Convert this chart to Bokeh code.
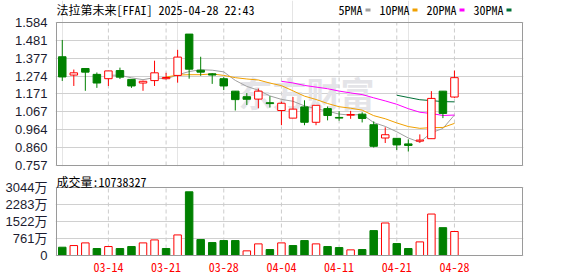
import numpy as np
import pandas as pd
from bokeh.plotting import figure
from bokeh.models import (FixedTicker, Label, ColumnDataSource, Range1d,
                          PrintfTickFormatter, CustomJSTickFormatter, BoxAnnotation)
from bokeh.layouts import column
from bokeh.embed import file_html
from bokeh.resources import INLINE

# ---------------- data ----------------
dates = ["03-10", "03-11", "03-12", "03-13", "03-14", "03-17", "03-18", "03-19", "03-20", "03-21",
         "03-24", "03-25", "03-26", "03-27", "03-28", "03-31", "04-01", "04-02", "04-03", "04-04",
         "04-07", "04-08", "04-09", "04-10", "04-11", "04-14", "04-15", "04-16", "04-17", "04-21",
         "04-22", "04-23", "04-24", "04-25", "04-28"]
opens = [1.386, 1.280, 1.318, 1.284, 1.259, 1.306, 1.255, 1.234, 1.248, 1.259,
         1.278, 1.517, 1.308, 1.287, 1.259, 1.187, 1.155, 1.141, 1.120, 1.075,
         1.031, 1.096, 1.007, 1.086, 1.035, 1.048, 1.054, 0.993, 0.916, 0.914,
         0.882, 0.898, 0.912, 1.187, 1.153]
highs = [1.483, 1.312, 1.318, 1.295, 1.304, 1.323, 1.255, 1.248, 1.363, 1.293,
         1.426, 1.517, 1.386, 1.291, 1.268, 1.187, 1.176, 1.202, 1.158, 1.126,
         1.153, 1.134, 1.105, 1.098, 1.071, 1.073, 1.065, 1.012, 0.978, 0.914,
         0.908, 0.937, 1.187, 1.187, 1.306]
lows = [1.246, 1.217, 1.189, 1.206, 1.217, 1.257, 1.206, 1.189, 1.217, 1.255,
        1.236, 1.259, 1.276, 1.229, 1.193, 1.075, 1.107, 1.088, 1.092, 0.990,
        1.031, 0.990, 0.990, 1.018, 1.016, 1.027, 1.006, 0.861, 0.887, 0.847,
        0.838, 0.889, 0.912, 1.031, 1.148]
closes = [1.269, 1.293, 1.297, 1.234, 1.304, 1.268, 1.217, 1.244, 1.293, 1.266,
          1.384, 1.314, 1.297, 1.280, 1.217, 1.138, 1.140, 1.187, 1.115, 1.117,
          1.083, 1.007, 1.105, 1.046, 1.031, 1.052, 1.029, 0.868, 0.935, 0.876,
          0.873, 0.904, 1.145, 1.058, 1.265]
volumes_wan = [371, 445, 564, 312, 401, 312, 401, 564, 698, 312,
               921, 2851, 713, 579, 668, 668, 208, 520, 267, 564,
               445, 668, 520, 401, 356, 252, 267, 1114, 1455, 535,
               312, 609, 1856, 1247, 1074]
price_labels = ["0.757", "0.860", "0.964", "1.067", "1.171", "1.274", "1.377", "1.481", "1.584"]
volume_ticks = [0, 761, 1522, 2283, 3044]
ma_periods = [5, 10, 20, 30]
ma_names = ["5PMA", "10PMA", "20PMA", "30PMA"]
ma_colors = ["#a0a0a0", "#f0a000", "#ff00ff", "#006f36"]
title_text = "法拉第未来[FFAI] 2025-04-28 22:43"
volume_text = "成交量:10738327"
watermark = "东方财富"

# ---------------- styling / layout constants ----------------
RED = "#ff0000"
GREEN = "#008000"
GRID = "#d0d0d0"
VGRID = "#cccccc"
BORDER = "#9a9a9a"
MONO = "'Noto Sans Mono CJK SC', 'Noto Sans CJK SC', monospace"
AXF = "'Liberation Sans', 'Noto Sans CJK SC', sans-serif"
W = 578
FR_L, FR_R = 56, 522            # pixel columns of the plot borders
P_TOP, P_BOT = 22, 165          # price plot border rows
V_TOP, V_BOT = 187, 255         # volume plot border rows
P_FIG_H = 172                   # price figure spans rows 0..172
V_FIG_H = 104                   # volume figure spans rows 172..276
XR = (-0.5, 39.9)

n = len(dates)
xs = list(range(n))
up = [c >= o for o, c in zip(opens, closes)]
line_col = [RED if u else GREEN for u in up]
fill_col = ["#ffffff" if u else GREEN for u in up]
vol_up = [closes[0] >= opens[0]] + [closes[i] >= closes[i - 1] for i in range(1, n)]
vline = [RED if u else GREEN for u in vol_up]
vfill = ["#ffffff" if u else GREEN for u in vol_up]

src = ColumnDataSource(dict(
    x=xs, high=highs, low=lows,
    top=[max(o, c) for o, c in zip(opens, closes)],
    bottom=[min(o, c) for o, c in zip(opens, closes)],
    lc=line_col, fc=fill_col,
    vol=volumes_wan, vlc=vline, vfc=vfill,
))

date_ticks = list(range(n - 1, -1, -5))[::-1]
price_ticks = [float(s) for s in price_labels]

# x range padded by one pixel on each side so the border lines are not clipped
px_x = (XR[1] - XR[0]) / (FR_R - FR_L)
x_range = Range1d(XR[0] - px_x, XR[1] + px_x)

# ---------------- price figure (frame also holds the header row) ----------------
P_FRAME_BOT = P_BOT + 1
px_p = (price_ticks[-1] - price_ticks[0]) / (P_BOT - P_TOP)
p = figure(width=W, height=P_FIG_H, x_range=x_range,
           y_range=Range1d(price_ticks[0] - (P_FRAME_BOT - P_BOT) * px_p,
                           price_ticks[-1] + P_TOP * px_p),
           output_backend="svg", toolbar_location=None, x_axis_location=None,
           min_border_left=FR_L - 1, min_border_right=W - FR_R - 1,
           min_border_top=0, min_border_bottom=P_FIG_H - P_FRAME_BOT)
p.outline_line_color = None
p.yaxis.ticker = FixedTicker(ticks=price_ticks)
p.yaxis.formatter = PrintfTickFormatter(format="%.3f")
p.yaxis.axis_line_color = None
p.yaxis.major_tick_line_color = None
p.yaxis.minor_tick_line_color = None
p.yaxis.major_label_standoff = 2
p.yaxis.major_label_text_font = AXF
p.yaxis.major_label_text_font_size = "13px"
p.yaxis.major_label_text_color = "#1c1c30"
p.ygrid.ticker = FixedTicker(ticks=price_ticks)
p.ygrid.grid_line_color = GRID

PFH = P_FRAME_BOT  # frame height in px
p.add_layout(Label(x=306 - FR_L + 1, y=PFH - 92, x_units="screen", y_units="screen",
                   text=watermark, text_font="'Noto Sans CJK SC'", text_font_size="34px",
                   text_font_style="bold", text_color="#e4e4e8", text_align="center",
                   text_baseline="middle", level="underlay"))

p.segment(x0=date_ticks, y0=[price_ticks[0]] * len(date_ticks),
          x1=date_ticks, y1=[price_ticks[-1]] * len(date_ticks),
          line_color=VGRID, line_width=1, line_dash="4 3")

for k, name, colr in zip(ma_periods, ma_names, ma_colors):
    ma = pd.Series(closes).rolling(k).mean().to_numpy()
    p.line(xs, ma, line_color=colr, line_width=1)

p.segment(x0="x", y0="low", x1="x", y1="high", line_color="lc", line_width=1, source=src)
p.vbar(x="x", width=0.65, top="top", bottom="bottom", fill_color="fc", line_color="lc",
       line_width=1, source=src)
p.quad(left=[XR[0]], right=[XR[1]], bottom=[price_ticks[0]], top=[price_ticks[-1]],
       fill_color=None, line_color=BORDER, line_width=1)

# header: title and MA legend
HEAD_Y = PFH - 9
p.add_layout(Label(x=1, y=HEAD_Y, x_units="screen", y_units="screen", text=title_text,
                   text_font=MONO, text_font_size="12px", text_color="#000000",
                   text_baseline="middle", text_align="left"))
leg_x = 338 - FR_L + 1
for name, colr in zip(ma_names, ma_colors):
    p.add_layout(Label(x=leg_x, y=HEAD_Y, x_units="screen", y_units="screen", text=name,
                       text_font=MONO, text_font_size="12px", text_color="#000000",
                       text_baseline="middle", text_align="left"))
    mx = leg_x + 6 * len(name) + 3
    p.add_layout(BoxAnnotation(left=mx, right=mx + 5, bottom=HEAD_Y - 2, top=HEAD_Y + 1,
                               left_units="screen", right_units="screen",
                               bottom_units="screen", top_units="screen",
                               fill_color=colr, fill_alpha=1, line_color=None))
    leg_x = leg_x + 6 * len(name) + 17

# ---------------- volume figure (frame also holds the volume caption) ----------------
V_FRAME_TOP = P_FIG_H             # absolute row where the volume frame starts
V_FRAME_BOT = V_BOT + 1
px_v = (volume_ticks[-1] - volume_ticks[0]) / (V_BOT - V_TOP)
v = figure(width=W, height=V_FIG_H, x_range=x_range,
           y_range=Range1d(volume_ticks[0] - (V_FRAME_BOT - V_BOT) * px_v,
                           volume_ticks[-1] + (V_TOP - V_FRAME_TOP) * px_v),
           output_backend="svg", toolbar_location=None,
           min_border_left=FR_L - 1, min_border_right=W - FR_R - 1,
           min_border_top=0, min_border_bottom=P_FIG_H + V_FIG_H - V_FRAME_BOT)
v.outline_line_color = None
v.yaxis.ticker = FixedTicker(ticks=volume_ticks)
v.yaxis.formatter = CustomJSTickFormatter(code="return tick == 0 ? '0' : tick + '万';")
v.yaxis.axis_line_color = None
v.yaxis.major_tick_line_color = None
v.yaxis.minor_tick_line_color = None
v.yaxis.major_label_standoff = 2
v.yaxis.major_label_text_font = AXF
v.yaxis.major_label_text_font_size = "13px"
v.yaxis.major_label_text_color = "#1c1c30"
v.ygrid.ticker = FixedTicker(ticks=volume_ticks)
v.ygrid.grid_line_color = GRID
v.xaxis.ticker = FixedTicker(ticks=date_ticks)
v.xaxis.formatter = CustomJSTickFormatter(args=dict(labels=dates),
                                          code="return labels[Math.round(tick)] || '';")
v.xaxis.axis_line_color = None
v.xaxis.major_tick_line_color = None
v.xaxis.minor_tick_line_color = None
v.xaxis.major_label_standoff = 0
v.xaxis.major_label_text_font = MONO
v.xaxis.major_label_text_font_size = "12px"
v.xaxis.major_label_text_color = RED
v.xgrid.visible = False

v.segment(x0=date_ticks, y0=[volume_ticks[0]] * len(date_ticks),
          x1=date_ticks, y1=[volume_ticks[-1]] * len(date_ticks),
          line_color=VGRID, line_width=1, line_dash="4 3")
v.vbar(x="x", width=0.65, top="vol", bottom=0, fill_color="vfc", line_color="vlc",
       line_width=1, source=src)
v.quad(left=[XR[0]], right=[XR[1]], bottom=[volume_ticks[0]], top=[volume_ticks[-1]],
       fill_color=None, line_color=BORDER, line_width=1)

VFH = V_FRAME_BOT - V_FRAME_TOP
v.add_layout(Label(x=1, y=VFH - (180.5 - V_FRAME_TOP), x_units="screen", y_units="screen",
                   text=volume_text, text_font=MONO, text_font_size="12px",
                   text_color="#000000", text_baseline="middle", text_align="left"))

layout = column(p, v, spacing=0)
open("out.html", "w").write(file_html(layout, INLINE))
